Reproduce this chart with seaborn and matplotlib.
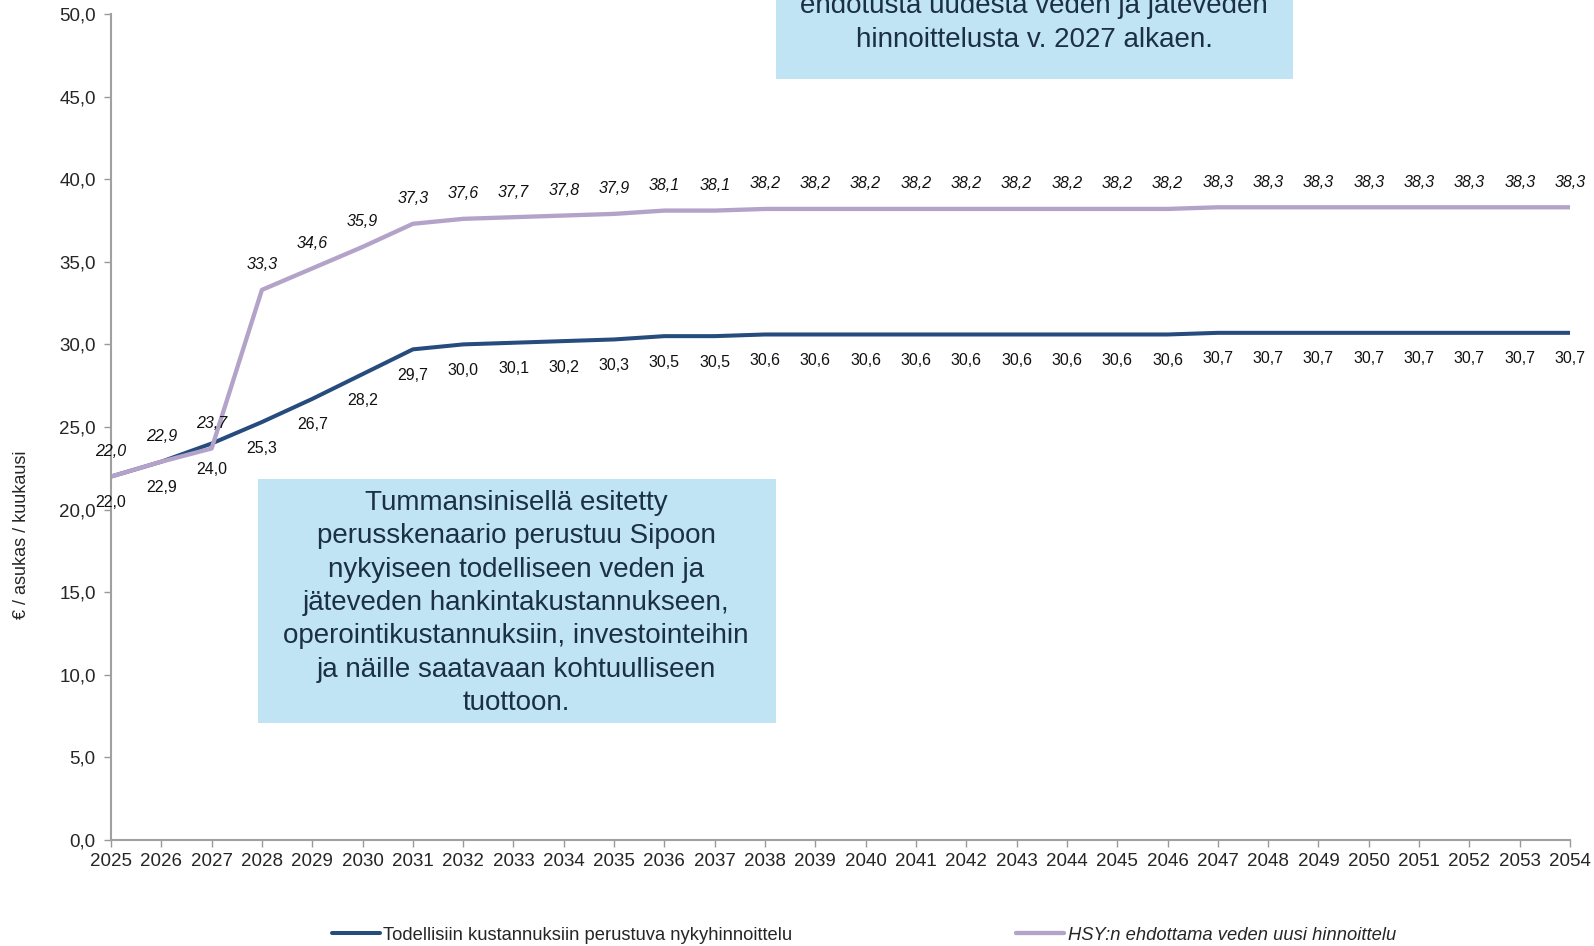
import matplotlib
matplotlib.use("Agg")
import matplotlib.pyplot as plt
import seaborn as sns
import pandas as pd
from matplotlib.patches import Rectangle
from matplotlib.ticker import FuncFormatter, MultipleLocator

years = list(range(2025, 2055))
current_pricing = [22.0, 22.9, 24.0, 25.3, 26.7, 28.2, 29.7, 30.0, 30.1, 30.2, 30.3, 30.5, 30.5,
                   30.6, 30.6, 30.6, 30.6, 30.6, 30.6, 30.6, 30.6, 30.6,
                   30.7, 30.7, 30.7, 30.7, 30.7, 30.7, 30.7, 30.7]
hsy_pricing = [22.0, 22.9, 23.7, 33.3, 34.6, 35.9, 37.3, 37.6, 37.7, 37.8, 37.9, 38.1, 38.1,
               38.2, 38.2, 38.2, 38.2, 38.2, 38.2, 38.2, 38.2, 38.2,
               38.3, 38.3, 38.3, 38.3, 38.3, 38.3, 38.3, 38.3]
series_names = ["Todellisiin kustannuksiin perustuva nykyhinnoittelu",
                "HSY:n ehdottama veden uusi hinnoittelu"]
y_label = "€ / asukas / kuukausi"
box_bottom_text = ("Tummansinisellä esitetty\nperusskenaario perustuu Sipoon\n"
                   "nykyiseen todelliseen veden ja\njäteveden hankintakustannukseen,\n"
                   "operointikustannuksiin, investointeihin\nja näille saatavaan kohtuulliseen\ntuottoon.")
box_top_text = "ehdotusta uudesta veden ja jäteveden\nhinnoittelusta v. 2027 alkaen."

sns.set_style("white")
plt.rcParams["font.family"] = ["Liberation Sans", "DejaVu Sans"]

W, H = 1594, 946
fig = plt.figure(figsize=(W / 100, H / 100), dpi=100)
ax = fig.add_axes([111 / W, 1 - 840 / H, (1570 - 111) / W, (840 - 14) / H])

dark = "#264B7D"
purple = "#B3A3C9"
df = pd.DataFrame({"year": years * 2,
                   "value": current_pricing + hsy_pricing,
                   "series": [series_names[0]] * len(years) + [series_names[1]] * len(years)})
sns.lineplot(data=df[df.series == series_names[0]], x="year", y="value", color=dark,
             linewidth=2.9, ax=ax, label=series_names[0], legend=False)
sns.lineplot(data=df[df.series == series_names[1]], x="year", y="value", color=purple,
             linewidth=3.1, ax=ax, label=series_names[1], legend=False)

for x, v in zip(years, current_pricing):
    ax.annotate(f"{v:.1f}".replace(".", ","), (x, v), xytext=(0, -26), textcoords="offset pixels",
                ha="center", va="center", fontsize=11.5, color="#111111")
for x, v in zip(years, hsy_pricing):
    ax.annotate(f"{v:.1f}".replace(".", ","), (x, v), xytext=(0, 25), textcoords="offset pixels",
                ha="center", va="center", fontsize=11.5, color="#111111", style="italic")

ax.set_xlim(2025, 2054)
ax.set_ylim(0, 50)
ax.set_xticks(years)
ax.set_xticklabels([str(y) for y in years], fontsize=13.5)
ax.yaxis.set_major_locator(MultipleLocator(5))
ax.yaxis.set_major_formatter(FuncFormatter(lambda v, p: f"{v:.1f}".replace(".", ",")))
ax.tick_params(axis="y", labelsize=13.5, length=5, width=1, color="#999999", direction="out", left=True, pad=6)
ax.tick_params(axis="x", length=5, width=1, color="#999999", direction="out", bottom=True, pad=4)
ax.set_xlabel("")
ax.set_ylabel("")
for s in ["top", "right"]:
    ax.spines[s].set_visible(False)
for s in ["left", "bottom"]:
    ax.spines[s].set_color("#A0A0A0")
    ax.spines[s].set_linewidth(1.5)

fig.text(22 / W, 1 - 535 / H, y_label, rotation=90, ha="center", va="center", fontsize=13)

box_color = "#C0E4F4"
fig.patches.append(Rectangle((258 / W, 1 - 723 / H), (776 - 258) / W, (723 - 479) / H,
                             transform=fig.transFigure, facecolor=box_color, edgecolor="none", zorder=3))
fig.text(516 / W, 1 - 603 / H, box_bottom_text, ha="center", va="center", fontsize=20,
         color="#1B2F45", linespacing=1.37, zorder=4)
fig.patches.append(Rectangle((776 / W, 1 - 79 / H), (1293 - 776) / W, 79 / H + 0.01,
                             transform=fig.transFigure, facecolor=box_color, edgecolor="none", zorder=3))
fig.text(1034 / W, 1 - 23 / H, box_top_text, ha="center", va="center", fontsize=20,
         color="#1B2F45", linespacing=1.37, zorder=4)

handles, labels = ax.get_legend_handles_labels()
leg = fig.legend(handles, labels, loc="center", bbox_to_anchor=(864 / W, 1 - 935 / H), ncol=2,
                 frameon=False, fontsize=13.2, columnspacing=12.2, handlelength=2.6, handletextpad=0.2)
leg.get_texts()[1].set_style("italic")

fig.savefig("out.png", dpi=100)
